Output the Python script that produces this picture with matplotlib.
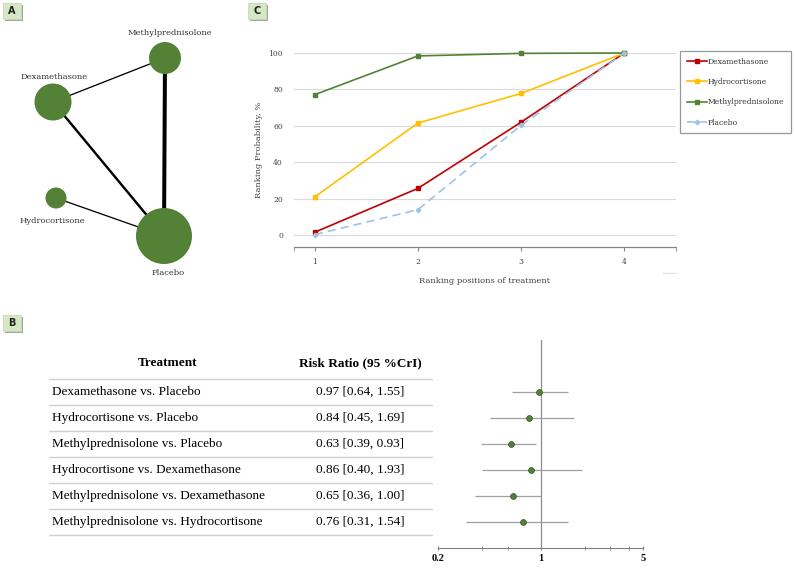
import matplotlib
matplotlib.use("Agg")
import matplotlib.pyplot as plt
from matplotlib.patches import Circle, Rectangle

W, H = 795, 568

# ---- data ----
# panel A: network of comparisons
nodes = ["Methylprednisolone", "Dexamethasone", "Hydrocortisone", "Placebo"]
node_radius = [16, 18.5, 10.5, 28]
edges = [("Methylprednisolone", "Placebo"), ("Dexamethasone", "Placebo"),
         ("Dexamethasone", "Methylprednisolone"), ("Hydrocortisone", "Placebo")]
edge_weight = [4.0, 2.4, 1.3, 1.3]

# panel C: cumulative ranking probability
ranks = [1, 2, 3, 4]
rank_series = ["Dexamethasone", "Hydrocortisone", "Methylprednisolone", "Placebo"]
dexa_rank = [1.5, 25.6, 62.0, 100]
hydro_rank = [20.9, 61.5, 77.8, 100]
methyl_rank = [77.1, 98.4, 99.8, 100]
placebo_rank = [0.2, 13.9, 60.3, 100]

# panel B: league table / forest plot
comparisons = ["Dexamethasone vs. Placebo", "Hydrocortisone vs. Placebo",
               "Methylprednisolone vs. Placebo", "Hydrocortisone vs. Dexamethasone",
               "Methylprednisolone vs. Dexamethasone", "Methylprednisolone vs. Hydrocortisone"]
rr = [0.97, 0.84, 0.63, 0.86, 0.65, 0.76]
rr_lo = [0.64, 0.45, 0.39, 0.40, 0.36, 0.31]
rr_hi = [1.55, 1.69, 0.93, 1.93, 1.00, 1.54]

GREEN = "#538135"
SERIF_A = "DejaVu Serif"
TIMES = "Liberation Serif"

fig = plt.figure(figsize=(W / 100, H / 100), dpi=100)
fig.patch.set_facecolor("white")


def px_axes(x0, y0, x1, y1):
    return fig.add_axes([x0 / W, 1 - y1 / H, (x1 - x0) / W, (y1 - y0) / H])


def panel_tag(x0, y0, letter):
    ax = px_axes(x0, y0, x0 + 20, y0 + 18)
    ax.set_xlim(0, 20)
    ax.set_ylim(18, 0)
    ax.axis("off")
    ax.add_patch(Rectangle((1.5, 1.5), 18, 16, facecolor="#a6a6a6", edgecolor="none"))
    ax.add_patch(Rectangle((0, 0), 18, 16, facecolor="#d5e8c4", edgecolor="#c8d8b8", lw=0.6))
    ax.text(9, 8.5, letter, ha="center", va="center", fontsize=7, fontweight="bold",
            color="#222222", family="DejaVu Sans")


# ---- panel A ----
layout = {"Methylprednisolone": (165, 58), "Dexamethasone": (53, 102),
          "Hydrocortisone": (56, 198), "Placebo": (164, 236)}
label_pos = {"Methylprednisolone": (170, 33), "Dexamethasone": (54, 77),
             "Hydrocortisone": (52, 221), "Placebo": (168, 273)}
axA = px_axes(0, 0, 240, 300)
axA.set_xlim(0, 240)
axA.set_ylim(300, 0)
axA.axis("off")
for (a, b), w in zip(edges, edge_weight):
    (xa, ya), (xb, yb) = layout[a], layout[b]
    axA.plot([xa, xb], [ya, yb], color="black", lw=w * 0.72, zorder=1, solid_capstyle="butt")
for name, r in zip(nodes, node_radius):
    axA.add_patch(Circle(layout[name], r, facecolor=GREEN, edgecolor="none", zorder=2))
    lx, ly = label_pos[name]
    axA.text(lx, ly, name, ha="center", va="center", fontsize=6, family=SERIF_A, color="#333333")
panel_tag(3, 3, "A")

# ---- panel C ----
panel_tag(248, 3, "C")
axC = px_axes(294, 53, 676, 247)
axC.set_xlim(0.8, 4.5)
axC.set_ylim(-6.6, 100)
rank_values = [dexa_rank, hydro_rank, methyl_rank, placebo_rank]
rank_colors = ["#c00000", "#ffc000", "#548235", "#9dc3e6"]
rank_styles = ["-", "-", "-", (0, (5, 3))]
rank_markers = ["s", "s", "s", "D"]
for name, vals, c, ls, m in zip(rank_series, rank_values, rank_colors, rank_styles, rank_markers):
    axC.plot(ranks, vals, color=c, ls=ls, lw=1.2, marker=m, ms=2.3, label=name, clip_on=False)
axC.set_yticks(range(0, 101, 20))
axC.grid(axis="y", color="#d9d9d9", lw=0.8)
axC.set_axisbelow(True)
for s in ["top", "right", "left"]:
    axC.spines[s].set_visible(False)
axC.spines["bottom"].set_color("#868686")
axC.spines["bottom"].set_linewidth(0.9)
axC.set_xticks(ranks)
axC.set_xticks([0.8, 4.5], minor=True)
axC.tick_params(axis="x", which="both", length=3, color="#868686", labelsize=5.5, pad=5,
                labelcolor="#444444")
axC.tick_params(axis="y", length=0, labelsize=5.5, pad=8, labelcolor="#444444")
for lab in axC.get_xticklabels() + axC.get_yticklabels():
    lab.set_family(SERIF_A)
axC.set_ylabel("Ranking Probability, %", fontsize=6, family=SERIF_A, color="#444444", labelpad=4)
axC.set_xlabel("Ranking positions of treatment", fontsize=6, family=SERIF_A, color="#444444",
               labelpad=8)
leg = axC.legend(loc="upper left", bbox_to_anchor=(680 / W, 1 - 51 / H),
                 bbox_transform=fig.transFigure, fontsize=5.5, frameon=True, fancybox=False,
                 handlelength=2.6, handletextpad=0.15, labelspacing=1.6, borderpad=0.9,
                 borderaxespad=0)
leg.get_frame().set_edgecolor("#7f7f7f")
leg.get_frame().set_linewidth(0.9)
for t in leg.get_texts():
    t.set_family(SERIF_A)
    t.set_color("#333333")
fig.add_artist(plt.Line2D([663 / W, 676 / W], [1 - 273 / H] * 2, color="#e0e0e0", lw=0.8))

# ---- panel B ----
panel_tag(3, 315, "B")
rows = list(range(len(comparisons)))
axT = px_axes(49, 340, 433, 548)
axT.set_xlim(49, 433)
axT.set_ylim(6, -2)
axT.axis("off")
axT.text(168, -1.12, "Treatment", ha="center", va="center", fontsize=9.5, fontweight="bold",
         family=TIMES)
axT.text(360, -1.12, "Risk Ratio (95 %CrI)", ha="center", va="center", fontsize=9.5,
         fontweight="bold", family=TIMES)
for y in [-0.5] + [i + 0.5 for i in rows]:
    axT.plot([49, 433], [y, y], color="#d0d0d0", lw=1.0)
for i, name in enumerate(comparisons):
    axT.text(52, i, name, ha="left", va="center", fontsize=9.5, family=TIMES)
    axT.text(360, i, f"{rr[i]:.2f} [{rr_lo[i]:.2f}, {rr_hi[i]:.2f}]", ha="center", va="center",
             fontsize=9.5, family=TIMES)

axF = px_axes(438, 340, 643, 548)
axF.set_xscale("log")
axF.set_xlim(0.2, 5)
axF.set_ylim(6, -2)
axF.axvline(1, color="#8c8c8c", lw=0.9)
axF.hlines(rows, rr_lo, rr_hi, color="#a0a0a0", lw=0.9)
axF.plot(rr, rows, "o", color=GREEN, mec="#2f4f1c", mew=0.5, ms=4.2, zorder=3)
for s in ["top", "right", "left"]:
    axF.spines[s].set_visible(False)
axF.spines["bottom"].set_color("#808080")
axF.set_yticks([])
axF.set_xticks([0.2, 1, 5])
axF.set_xticklabels(["0.2", "1", "5"])
axF.set_xticks([0.4, 0.6, 2, 3, 4], minor=True)
axF.xaxis.set_minor_formatter(plt.NullFormatter())
axF.tick_params(axis="x", which="both", direction="inout", length=3, color="#808080",
                labelsize=7.5, pad=3)
for lab in axF.get_xticklabels():
    lab.set_family(TIMES)
    lab.set_fontweight("bold")

fig.savefig("out.png", dpi=100, facecolor="white")
